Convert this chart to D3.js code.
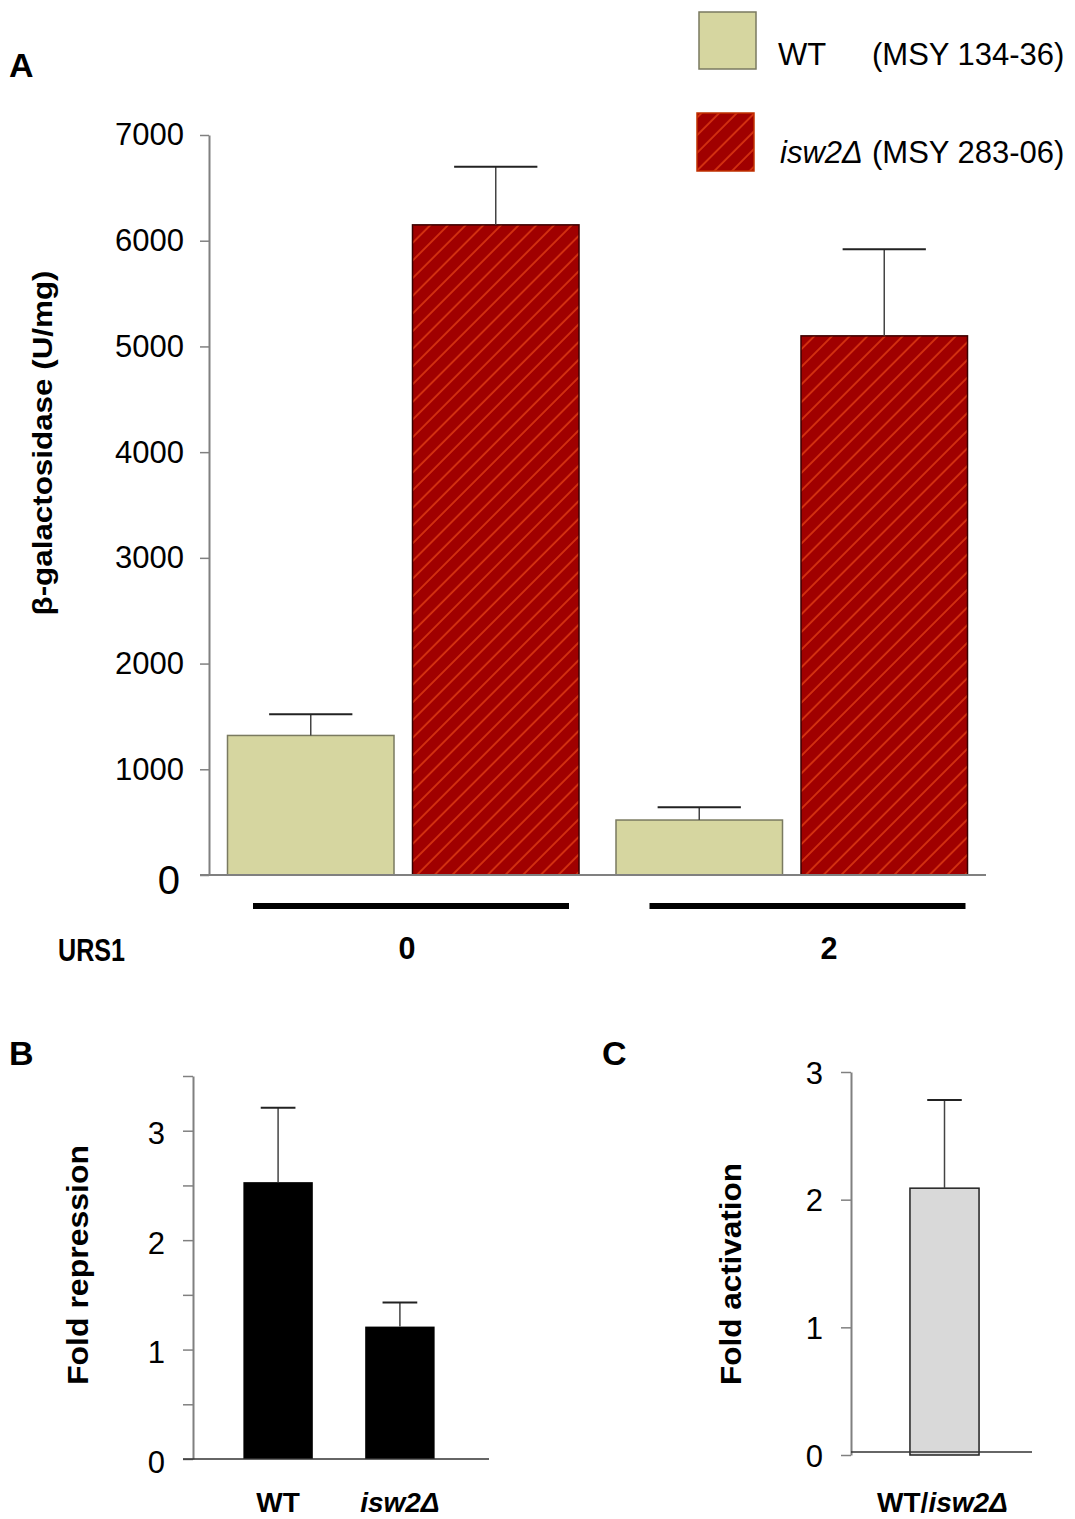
<!DOCTYPE html>
<html>
<head>
<meta charset="utf-8">
<script src="https://cdn.jsdelivr.net/npm/d3@7"></script>
<style>
  body { margin: 0; background: #fff; }
  text { font-family: "Liberation Sans", Arial, sans-serif; fill: #000; }
</style>
</head>
<body>
<script>
// panel A data
var groups = ["0", "2"];
var strains = ["WT", "isw2Δ"];
var wtMeans = [1320, 520];
var wtErr = [200, 120];
var isw2Means = [6150, 5100];
var isw2Err = [550, 820];
var aTicks = [0, 1000, 2000, 3000, 4000, 5000, 6000, 7000];

// panel B data
var repCats = ["WT", "isw2Δ"];
var repMeans = [2.53, 1.21];
var repErr = [0.68, 0.22];
var bTicks = [0, 0.5, 1, 1.5, 2, 2.5, 3, 3.5];

// panel C data
var actCats = ["WT/isw2Δ"];
var actMeans = [2.09];
var actErr = [0.69];
var cTicks = [0, 1, 2, 3];

var size = ({ width: 1075, height: 1519 });

var svg = d3.select("body").append("svg")
  .attr("width", size.width)
  .attr("height", size.height);

var defs = svg.append("defs");
var hatch = defs.append("pattern")
  .attr("id", "hatch")
  .attr("patternUnits", "userSpaceOnUse")
  .attr("width", 12.5).attr("height", 12.5)
  .attr("patternTransform", "rotate(45)");
hatch.append("rect").attr("width", 12.5).attr("height", 12.5).attr("fill", "#a00000");
hatch.append("line")
  .attr("x1", 1).attr("y1", 0).attr("x2", 1).attr("y2", 12.5)
  .attr("stroke", "#ff5a1e").attr("stroke-width", 1);

function styleAxis(g) {
  g.select(".domain").attr("stroke", "#808080").attr("stroke-width", 2);
  g.selectAll(".tick line").attr("stroke", "#808080").attr("stroke-width", 1.5);
  g.selectAll(".tick text")
    .attr("font-family", "Liberation Sans, Arial, sans-serif")
    .attr("font-size", 31).attr("fill", "#000");
}

function errorBars(g, data, x, y, capW) {
  g.selectAll(null).data(data).enter().append("line")
    .attr("x1", function(d) { return x(d) ; })
    .attr("x2", function(d) { return x(d); })
    .attr("y1", function(d) { return y(d.mean); })
    .attr("y2", function(d) { return y(d.mean + d.err); })
    .attr("stroke", "#444").attr("stroke-width", 1.5);
  g.selectAll(null).data(data).enter().append("line")
    .attr("x1", function(d) { return x(d) - capW / 2; })
    .attr("x2", function(d) { return x(d) + capW / 2; })
    .attr("y1", function(d) { return y(d.mean + d.err); })
    .attr("y2", function(d) { return y(d.mean + d.err); })
    .attr("stroke", "#222").attr("stroke-width", 2);
}

// ---------------- Panel A ----------------
var yA = d3.scaleLinear().domain([0, 7000]).range([875, 135]);
var xA = d3.scaleBand().domain(groups).range([209, 986]).paddingInner(0).paddingOuter(0);
var xInner = d3.scaleBand().domain(strains).range([0, xA.bandwidth()])
  .paddingInner(0.1).paddingOuter(0.1);

var aData = [];
groups.forEach(function(gr, i) {
  aData.push({ group: gr, strain: "WT", mean: wtMeans[i], err: wtErr[i] });
  aData.push({ group: gr, strain: "isw2Δ", mean: isw2Means[i], err: isw2Err[i] });
});

var gA = svg.append("g");

gA.selectAll("rect.bar").data(aData).enter().append("rect")
  .attr("class", "bar")
  .attr("x", function(d) { return xA(d.group) + xInner(d.strain); })
  .attr("width", xInner.bandwidth())
  .attr("y", function(d) { return yA(d.mean); })
  .attr("height", function(d) { return yA(0) - yA(d.mean); })
  .attr("fill", function(d) { return d.strain === "WT" ? "#d6d6a0" : "url(#hatch)"; })
  .attr("stroke", function(d) { return d.strain === "WT" ? "#7a7a60" : "#3a0000"; })
  .attr("stroke-width", 1.5);

errorBars(gA, aData, function(d) { return xA(d.group) + xInner(d.strain) + xInner.bandwidth() / 2; },
  yA, xInner.bandwidth() / 2);

var axA = gA.append("g").attr("transform", "translate(209,0)")
  .call(d3.axisLeft(yA).tickValues(aTicks).tickSize(9).tickSizeOuter(0).tickPadding(16)
    .tickFormat(d3.format("d")));
styleAxis(axA);
axA.selectAll(".tick text").filter(function(d) { return d === 0; })
  .attr("font-size", 40).attr("dy", "0.45em").attr("x", -29);

// baseline
gA.append("line")
  .attr("x1", 200).attr("x2", 986).attr("y1", yA(0)).attr("y2", yA(0))
  .attr("stroke", "#808080").attr("stroke-width", 2);

// URS1 bars and labels
gA.selectAll("line.urs").data(groups).enter().append("line")
  .attr("class", "urs")
  .attr("x1", function(d, i) { return xA(d) + 44 + i * 8; })
  .attr("x2", function(d, i) { return xA(d) + 360 + i * 8; })
  .attr("y1", 906).attr("y2", 906)
  .attr("stroke", "#000").attr("stroke-width", 6);

var ursLabelX = d3.scalePoint().domain(groups).range([407, 829]);
gA.selectAll("text.urs").data(groups).enter().append("text")
  .attr("class", "urs")
  .attr("x", function(d) { return ursLabelX(d); })
  .attr("y", 959)
  .attr("text-anchor", "middle")
  .attr("font-weight", "bold").attr("font-size", 31)
  .attr("textLength", 17).attr("lengthAdjust", "spacingAndGlyphs")
  .text(function(d) { return d; });

gA.append("text").attr("x", 58).attr("y", 961)
  .attr("font-weight", "bold").attr("font-size", 31)
  .attr("textLength", 67).attr("lengthAdjust", "spacingAndGlyphs")
  .text("URS1");

gA.append("text")
  .attr("transform", "translate(52,443) rotate(-90)")
  .attr("text-anchor", "middle")
  .attr("font-weight", "bold").attr("font-size", 27)
  .attr("textLength", 345).attr("lengthAdjust", "spacingAndGlyphs")
  .text("β-galactosidase (U/mg)");

gA.append("text").attr("x", 9).attr("y", 77)
  .attr("font-weight", "bold").attr("font-size", 34).text("A");

// legend
var legend = svg.append("g");
legend.append("rect").attr("x", 699).attr("y", 12).attr("width", 57).attr("height", 57)
  .attr("fill", "#d6d6a0").attr("stroke", "#7a7a60").attr("stroke-width", 1.5);
legend.append("rect").attr("x", 697).attr("y", 113).attr("width", 57).attr("height", 58)
  .attr("fill", "url(#hatch)").attr("stroke", "#c03000").attr("stroke-width", 1.5);
legend.append("text").attr("x", 778).attr("y", 65).attr("font-size", 31).text("WT");
legend.append("text").attr("x", 872).attr("y", 65).attr("font-size", 31).text("(MSY 134-36)");
legend.append("text").attr("x", 780).attr("y", 163).attr("font-size", 31)
  .attr("font-style", "italic").text("isw2Δ");
legend.append("text").attr("x", 872).attr("y", 163).attr("font-size", 31).text("(MSY 283-06)");

// ---------------- Panel B ----------------
var yB = d3.scaleLinear().domain([0, 3.5]).range([1459, 1076]);
var xB = d3.scaleBand().domain(repCats).range([193, 489]).paddingInner(0.43).paddingOuter(0.43);
var bData = repCats.map(function(c, i) { return { cat: c, mean: repMeans[i], err: repErr[i] }; });

var gB = svg.append("g");
gB.selectAll("rect").data(bData).enter().append("rect")
  .attr("x", function(d) { return xB(d.cat) - 2; })
  .attr("width", xB.bandwidth())
  .attr("y", function(d) { return yB(d.mean); })
  .attr("height", function(d) { return yB(0) - yB(d.mean); })
  .attr("fill", "#000");
errorBars(gB, bData, function(d) { return xB(d.cat) - 2 + xB.bandwidth() / 2; }, yB, xB.bandwidth() / 2);

var axB = gB.append("g").attr("transform", "translate(193,0)")
  .call(d3.axisLeft(yB).tickValues(bTicks).tickSize(10).tickSizeOuter(0).tickPadding(18)
    .tickFormat(function(d) { return Number.isInteger(d) ? d : ""; }));
styleAxis(axB);
axB.selectAll(".tick text").attr("dy", "0.42em");

gB.append("line")
  .attr("x1", 183).attr("x2", 489).attr("y1", yB(0)).attr("y2", yB(0))
  .attr("stroke", "#333").attr("stroke-width", 1.5);

gB.selectAll("text.cat").data(repCats).enter().append("text")
  .attr("class", "cat")
  .attr("x", function(d) { return xB(d) - 2 + xB.bandwidth() / 2; })
  .attr("y", 1512)
  .attr("text-anchor", "middle")
  .attr("font-weight", "bold").attr("font-size", 28)
  .attr("font-style", function(d) { return d === "WT" ? "normal" : "italic"; })
  .text(function(d) { return d; });

gB.append("text")
  .attr("transform", "translate(88,1265) rotate(-90)")
  .attr("text-anchor", "middle")
  .attr("font-weight", "bold").attr("font-size", 29)
  .attr("textLength", 240).attr("lengthAdjust", "spacingAndGlyphs")
  .text("Fold repression");

gB.append("text").attr("x", 9).attr("y", 1065)
  .attr("font-weight", "bold").attr("font-size", 34).text("B");

// ---------------- Panel C ----------------
var yC = d3.scaleLinear().domain([0, 3]).range([1455, 1072]);
var xC = d3.scaleBand().domain(actCats).range([851, 1032]).paddingInner(0).paddingOuter(0.81);
var cData = actCats.map(function(c, i) { return { cat: c, mean: actMeans[i], err: actErr[i] }; });

var gC = svg.append("g");
gC.selectAll("rect").data(cData).enter().append("rect")
  .attr("x", function(d) { return xC(d.cat) + 3; })
  .attr("width", xC.bandwidth())
  .attr("y", function(d) { return yC(d.mean); })
  .attr("height", function(d) { return yC(0) - yC(d.mean); })
  .attr("fill", "#d9d9d9").attr("stroke", "#222").attr("stroke-width", 1.5);
errorBars(gC, cData, function(d) { return xC(d.cat) + 3 + xC.bandwidth() / 2; }, yC, xC.bandwidth() / 2);

var axC = gC.append("g").attr("transform", "translate(851,0)")
  .call(d3.axisLeft(yC).tickValues(cTicks).tickSize(10).tickSizeOuter(0).tickPadding(18)
    .tickFormat(d3.format("d")));
styleAxis(axC);
axC.selectAll(".tick text").attr("dy", "0.36em");

gC.append("line")
  .attr("x1", 851).attr("x2", 1032).attr("y1", yC(0) - 3).attr("y2", yC(0) - 3)
  .attr("stroke", "#333").attr("stroke-width", 1.5);

var cLabel = gC.append("text")
  .attr("x", xC(actCats[0]) + 1 + xC.bandwidth() / 2).attr("y", 1512)
  .attr("text-anchor", "middle")
  .attr("font-weight", "bold").attr("font-size", 28);
cLabel.append("tspan").text("WT/");
cLabel.append("tspan").attr("font-style", "italic").text("isw2Δ");

gC.append("text")
  .attr("transform", "translate(741,1274) rotate(-90)")
  .attr("text-anchor", "middle")
  .attr("font-weight", "bold").attr("font-size", 29)
  .attr("textLength", 222).attr("lengthAdjust", "spacingAndGlyphs")
  .text("Fold activation");

gC.append("text").attr("x", 602).attr("y", 1065)
  .attr("font-weight", "bold").attr("font-size", 34).text("C");
</script>
</body>
</html>
